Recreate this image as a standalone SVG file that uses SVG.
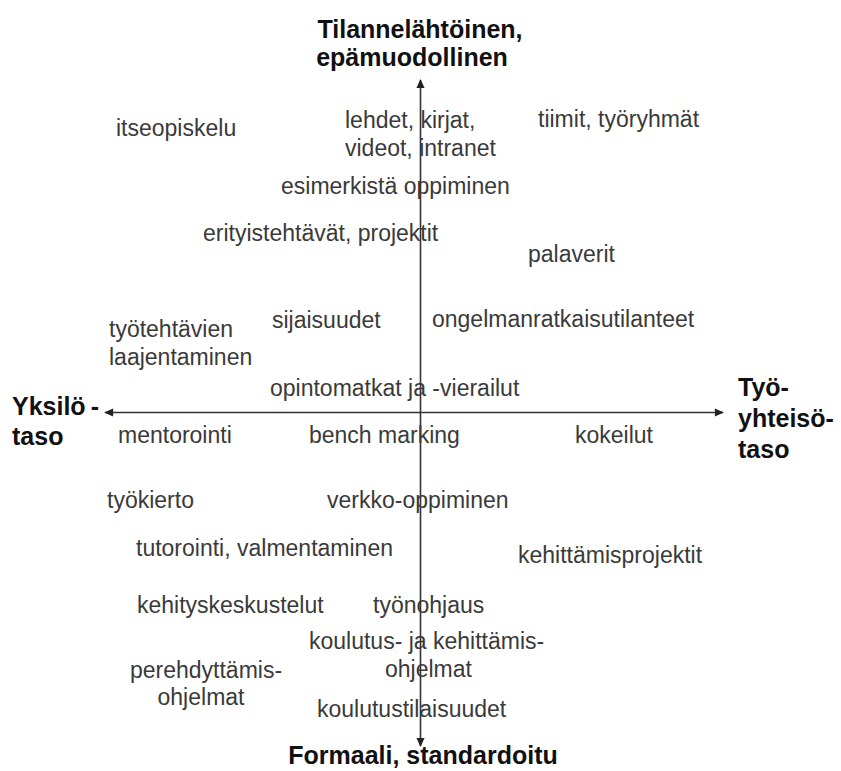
<svg xmlns="http://www.w3.org/2000/svg" width="841" height="771" viewBox="0 0 841 771">
<style>
.t{font-family:"Liberation Sans",Arial,sans-serif;font-size:23px;fill:#3a3a3a}
.b{font-family:"Liberation Sans",Arial,sans-serif;font-size:25px;font-weight:bold;fill:#111}
.ax{stroke:#333;stroke-width:1.6;fill:none}
</style>
<defs>
<marker id="ah" viewBox="0 0 10 10" refX="9" refY="5" markerWidth="10" markerHeight="9" markerUnits="userSpaceOnUse" orient="auto">
<path d="M0,0.5 L10,5 L0,9.5 Z" fill="#222"/>
</marker>
</defs>
<rect width="841" height="771" fill="#fff"/>
<g id="connectors">
<line class="ax" x1="420.5" y1="412.5" x2="420.5" y2="80" marker-end="url(#ah)"/>
<line class="ax" x1="420.5" y1="412.5" x2="420.5" y2="746" marker-end="url(#ah)"/>
<line class="ax" x1="420.5" y1="412.5" x2="105" y2="412.5" marker-end="url(#ah)"/>
<line class="ax" x1="420.5" y1="412.5" x2="723" y2="412.5" marker-end="url(#ah)"/>
</g>
<g id="axis-top"><text class="b" x="420" y="38" text-anchor="middle">Tilannelähtöinen,</text><text class="b" x="412" y="66" text-anchor="middle">epämuodollinen</text></g>
<g id="axis-left"><text class="b" x="12" y="415">Yksilö<tspan dx="5">-</tspan></text><text class="b" x="12" y="445">taso</text></g>
<g id="axis-right"><text class="b" x="738" y="396">Työ-</text><text class="b" x="738" y="427">yhteisö-</text><text class="b" x="738" y="458">taso</text></g>
<g id="axis-bottom"><text class="b" x="423" y="764" text-anchor="middle" font-size="26">Formaali, standardoitu</text></g>
<g id="n1"><text class="t" x="116" y="136">itseopiskelu</text></g>
<g id="n2"><text class="t" x="345" y="128">lehdet, kirjat,</text><text class="t" x="345" y="156">videot, intranet</text></g>
<g id="n3"><text class="t" x="538" y="127">tiimit, työryhmät</text></g>
<g id="n4"><text class="t" x="281" y="194">esimerkistä oppiminen</text></g>
<g id="n5"><text class="t" x="203" y="241">erityistehtävät, projektit</text></g>
<g id="n6"><text class="t" x="528" y="262">palaverit</text></g>
<g id="n7"><text class="t" x="109" y="337">työtehtävien</text><text class="t" x="109" y="365">laajentaminen</text></g>
<g id="n8"><text class="t" x="272" y="328">sijaisuudet</text></g>
<g id="n9"><text class="t" x="432" y="327">ongelmanratkaisutilanteet</text></g>
<g id="n10"><text class="t" x="270" y="396">opintomatkat ja -vierailut</text></g>
<g id="n11"><text class="t" x="118" y="443">mentorointi</text></g>
<g id="n12"><text class="t" x="309" y="443">bench marking</text></g>
<g id="n13"><text class="t" x="575" y="443">kokeilut</text></g>
<g id="n14"><text class="t" x="107" y="508">työkierto</text></g>
<g id="n15"><text class="t" x="327" y="508">verkko-oppiminen</text></g>
<g id="n16"><text class="t" x="136" y="556">tutorointi, valmentaminen</text></g>
<g id="n17"><text class="t" x="518" y="563">kehittämisprojektit</text></g>
<g id="n18"><text class="t" x="137" y="613">kehityskeskustelut</text></g>
<g id="n19"><text class="t" x="373" y="613">työnohjaus</text></g>
<g id="n20"><text class="t" x="309" y="649">koulutus- ja kehittämis-</text><text class="t" x="385" y="677">ohjelmat</text></g>
<g id="n21"><text class="t" x="206" y="678" text-anchor="middle">perehdyttämis-</text><text class="t" x="201" y="705" text-anchor="middle">ohjelmat</text></g>
<g id="n22"><text class="t" x="317" y="717">koulutustilaisuudet</text></g>
</svg>
